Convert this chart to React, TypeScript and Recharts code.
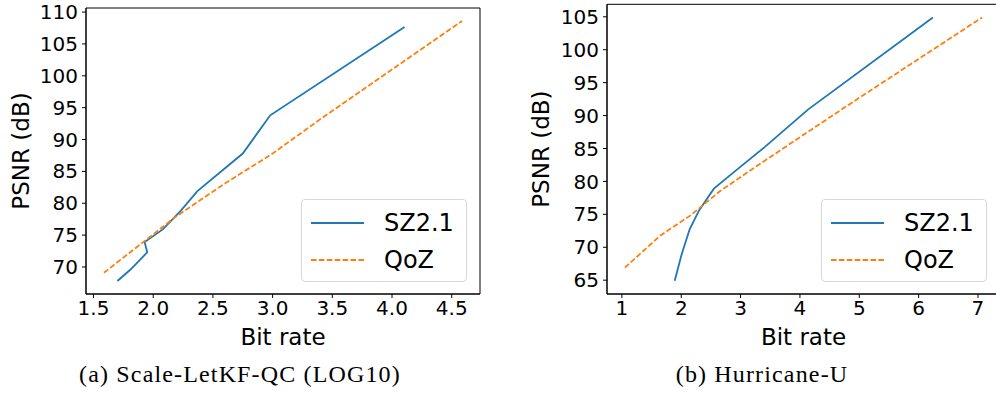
import React from 'react';
import { LineChart, Line, XAxis, YAxis, Legend, ReferenceArea } from 'recharts';

// (a) Scale-LetKF-QC (LOG10)
const letkfSzRate = [1.7, 1.81, 1.95, 1.928, 2.08, 2.23, 2.37, 2.75, 2.98, 4.105];
const letkfSzPsnr = [67.8, 69.6, 72.3, 73.9, 75.9, 78.8, 81.9, 87.8, 93.8, 107.65];
const letkfQozRate = [1.587, 2.19, 2.6, 3.0, 3.4, 4.1, 4.587];
const letkfQozPsnr = [69.1, 77.9, 83.1, 87.8, 93.2, 102.3, 108.6];
const letkfXTicks = [1.5, 2.0, 2.5, 3.0, 3.5, 4.0, 4.5];
const letkfYTicks = [70, 75, 80, 85, 90, 95, 100, 105, 110];

// (b) Hurricane-U
const hurrSzRate = [1.89, 2.006, 2.14, 2.3, 2.55, 2.98, 3.405, 4.135, 6.24];
const hurrSzPsnr = [64.9, 68.9, 72.7, 75.6, 78.9, 82.1, 85.2, 90.9, 104.9];
const hurrQozRate = [1.05, 1.65, 2.15, 2.65, 3.25, 4.13, 5.0, 6.0, 7.07];
const hurrQozPsnr = [66.9, 71.8, 74.8, 78.5, 82.2, 87.5, 92.7, 98.6, 104.9];
const hurrXTicks = [1, 2, 3, 4, 5, 6, 7];
const hurrYTicks = [65, 70, 75, 80, 85, 90, 95, 100, 105];

const seriesOrder = ['SZ2.1', 'QoZ'];

const zip = (xs: number[], ys: number[]) => xs.map((x, i) => ({ x, y: ys[i] }));

const BLUE = '#1f77b4';
const ORANGE = '#ff7f0e';
const DASH = '5.5 2.4';
const FONT = 'DejaVu Sans';

function renderLegend(props: any) {
  const items = [...(props.payload || [])].sort(
    (a: any, b: any) => seriesOrder.indexOf(a.value) - seriesOrder.indexOf(b.value)
  );
  return (
    <div
      style={{
        width: 164,
        height: 81,
        border: '1px solid #d8d8d8',
        borderRadius: 4,
        background: 'rgba(255,255,255,0.8)',
        fontFamily: FONT,
        fontSize: 24,
        color: '#000',
        boxSizing: 'content-box',
      }}
    >
      {items.map((entry: any, i: number) => (
        <div key={i} style={{ display: 'flex', alignItems: 'center', height: 37, marginTop: i === 0 ? 4 : 0 }}>
          <svg width={80} height={10} style={{ flex: 'none' }}>
            <line
              x1={9}
              x2={62}
              y1={5}
              y2={5}
              stroke={entry.color}
              strokeWidth={1.8}
              strokeDasharray={entry.value === 'QoZ' ? DASH : undefined}
            />
          </svg>
          <span style={{ marginLeft: 2 }}>{entry.value}</span>
        </div>
      ))}
    </div>
  );
}

interface PanelProps {
  sz: { x: number; y: number }[];
  qoz: { x: number; y: number }[];
  xDomain: [number, number];
  yDomain: [number, number];
  xTicks: number[];
  yTicks: number[];
  xFmt: (v: number) => string;
  width: number;
  yAxisWidth: number;
  top: number;
  right: number;
  yLabelOffset: number;
  legendLeft: number;
}

function Panel(p: PanelProps) {
  const tickStyle = { fontSize: 20, fill: '#000', fontFamily: FONT };
  return (
    <LineChart width={p.width} height={350} margin={{ top: p.top, right: p.right, bottom: 0, left: 0 }}>
      <XAxis
        type="number"
        dataKey="x"
        domain={p.xDomain}
        ticks={p.xTicks}
        tickFormatter={p.xFmt}
        allowDataOverflow
        height={56}
        tick={tickStyle}
        tickSize={4}
        tickMargin={3}
        stroke="#000"
        label={{ value: 'Bit rate', position: 'insideBottom', offset: 5, fontSize: 23, fill: '#000', fontFamily: FONT }}
      />
      <YAxis
        type="number"
        dataKey="y"
        domain={p.yDomain}
        ticks={p.yTicks}
        allowDataOverflow
        width={p.yAxisWidth}
        tick={tickStyle}
        tickSize={4}
        tickMargin={4}
        stroke="#000"
        label={{
          value: 'PSNR (dB)',
          angle: -90,
          position: 'insideLeft',
          offset: p.yLabelOffset,
          fontSize: 23,
          fill: '#000',
          fontFamily: FONT,
          style: { textAnchor: 'middle' },
        }}
      />
      {/* frame around the plot area (matplotlib spines) */}
      <ReferenceArea
        x1={p.xDomain[0]}
        x2={p.xDomain[1]}
        y1={p.yDomain[0]}
        y2={p.yDomain[1]}
        fill="none"
        fillOpacity={0}
        stroke="#000"
        strokeWidth={1}
        ifOverflow="visible"
      />
      <Legend
        layout="vertical"
        align="center"
        verticalAlign="middle"
        content={renderLegend}
        wrapperStyle={{ left: p.legendLeft, top: 199, width: 166, height: 83 }}
      />
      <Line
        data={p.sz}
        dataKey="y"
        name="SZ2.1"
        type="linear"
        stroke={BLUE}
        strokeWidth={1.8}
        dot={false}
        activeDot={false}
        isAnimationActive={false}
      />
      <Line
        data={p.qoz}
        dataKey="y"
        name="QoZ"
        type="linear"
        stroke={ORANGE}
        strokeWidth={1.8}
        strokeDasharray={DASH}
        dot={false}
        activeDot={false}
        isAnimationActive={false}
      />
    </LineChart>
  );
}

const captionStyle: React.CSSProperties = {
  position: 'absolute',
  top: 362,
  width: 480,
  textAlign: 'center',
  fontFamily: 'Liberation Serif',
  fontSize: 24,
  lineHeight: '24px',
  letterSpacing: 1.15,
  color: '#000',
};

export default function App() {
  return (
    <div style={{ position: 'absolute', left: 0, top: 0, width: 996, height: 394, overflow: 'hidden', background: '#fff' }}>
      <div style={{ position: 'absolute', left: 0, top: 0 }}>
        <Panel
          sz={zip(letkfSzRate, letkfSzPsnr)}
          qoz={zip(letkfQozRate, letkfQozPsnr)}
          xDomain={[1.437, 4.737]}
          yDomain={[65.76, 110.64]}
          xTicks={letkfXTicks}
          yTicks={letkfYTicks}
          xFmt={(v) => v.toFixed(1)}
          width={500}
          yAxisWidth={86}
          top={8}
          right={20}
          yLabelOffset={20.5}
          legendLeft={301}
        />
      </div>
      <div style={{ position: 'absolute', left: 500, top: 0 }}>
        <Panel
          sz={zip(hurrSzRate, hurrSzPsnr)}
          qoz={zip(hurrQozRate, hurrQozPsnr)}
          xDomain={[0.749, 7.371]}
          yDomain={[62.9, 106.9]}
          xTicks={hurrXTicks}
          yTicks={hurrYTicks}
          xFmt={(v) => String(v)}
          width={500}
          yAxisWidth={107}
          top={4.3}
          right={0}
          yLabelOffset={41}
          legendLeft={321}
        />
      </div>
      <div style={{ ...captionStyle, left: 0 }}>(a) Scale-LetKF-QC (LOG10)</div>
      <div style={{ ...captionStyle, left: 522 }}>(b) Hurricane-U</div>
    </div>
  );
}
